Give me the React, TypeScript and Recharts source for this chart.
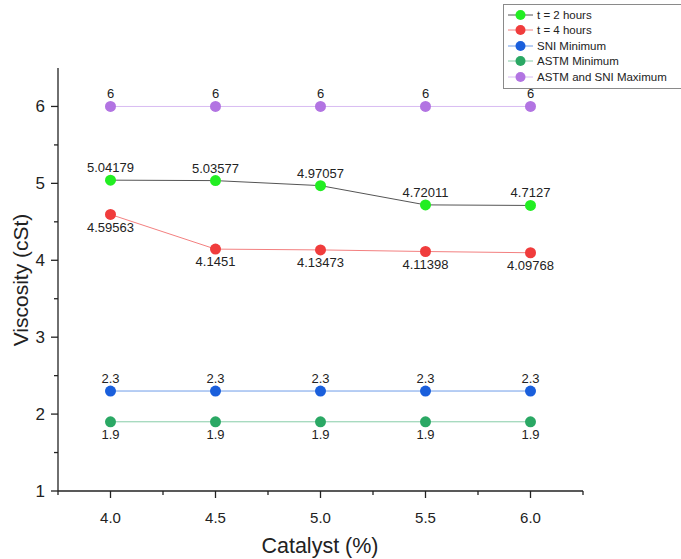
import React from "react";
import { LineChart, Line, XAxis, YAxis, LabelList } from "recharts";

const catalyst = [4.0, 4.5, 5.0, 5.5, 6.0];
const t2Hours = [5.04179, 5.03577, 4.97057, 4.72011, 4.7127];
const t4Hours = [4.59563, 4.1451, 4.13473, 4.11398, 4.09768];
const sniMinimum = [2.3, 2.3, 2.3, 2.3, 2.3];
const astmMinimum = [1.9, 1.9, 1.9, 1.9, 1.9];
const maximum = [6, 6, 6, 6, 6];

const xTicks = [3.75, 4.0, 4.25, 4.5, 4.75, 5.0, 5.25, 5.5, 5.75, 6.0, 6.25];
const xMajor = [4.0, 4.5, 5.0, 5.5, 6.0];
const yTicks = [1, 1.5, 2, 2.5, 3, 3.5, 4, 4.5, 5, 5.5, 6];
const yMajor = [1, 2, 3, 4, 5, 6];

const data = catalyst.map((c, i) => ({
  x: c,
  t2: t2Hours[i],
  t4: t4Hours[i],
  sni: sniMinimum[i],
  astm: astmMinimum[i],
  max: maximum[i],
}));

const FONT = "'Liberation Sans', Arial, sans-serif";

const series = [
  { key: "t2", name: "t = 2 hours", line: "#555555", dot: "#22ee22", labelPos: "top" },
  { key: "t4", name: "t = 4 hours", line: "#f38080", dot: "#f03c3c", labelPos: "bottom" },
  { key: "sni", name: "SNI Minimum", line: "#6e9ce8", dot: "#1a5fdc", labelPos: "top" },
  { key: "astm", name: "ASTM Minimum", line: "#86cca8", dot: "#2aa864", labelPos: "bottom" },
  { key: "max", name: "ASTM and SNI Maximum", line: "#d8bcf2", dot: "#b274e2", labelPos: "top" },
];

const AXIS_X = 58;
const AXIS_Y = 491;

const XTick = (props: any) => {
  const { x, payload } = props;
  const v = payload.value;
  const major = xMajor.some((m) => Math.abs(m - v) < 1e-6);
  return (
    <g>
      <line x1={x} x2={x} y1={AXIS_Y} y2={AXIS_Y + (major ? 7 : 4)} stroke="#222" strokeWidth={1.3} />
      {major && (
        <text x={x} y={AXIS_Y + 32} textAnchor="middle" fontSize={15} fontFamily={FONT} fill="#222">
          {v.toFixed(1)}
        </text>
      )}
    </g>
  );
};

const YTick = (props: any) => {
  const { y, payload } = props;
  const v = payload.value;
  const major = yMajor.some((m) => Math.abs(m - v) < 1e-6);
  return (
    <g>
      <line x1={AXIS_X - (major ? 7 : 4)} x2={AXIS_X} y1={y} y2={y} stroke="#222" strokeWidth={1.3} />
      {major && (
        <text x={AXIS_X - 13} y={y + 6} textAnchor="end" fontSize={17} fontFamily={FONT} fill="#222">
          {v}
        </text>
      )}
    </g>
  );
};

const LegendBox = () => (
  <div
    style={{
      position: "absolute",
      left: 503,
      top: 4,
      border: "1px solid #8a8a8a",
      background: "#fff",
      width: 200,
      padding: "2px 0 3px 0",
      fontFamily: FONT,
      fontSize: 11.5,
      color: "#222",
    }}
  >
    {series.map((s) => (
      <div key={s.key} style={{ display: "flex", alignItems: "center", height: 15.5 }}>
        <svg width={33} height={14} style={{ flex: "none" }}>
          <line x1={4} x2={29} y1={7} y2={7} stroke={s.line} strokeWidth={1} />
          <circle cx={16.5} cy={7} r={5} fill={s.dot} />
        </svg>
        <span style={{ whiteSpace: "nowrap" }}>{s.name}</span>
      </div>
    ))}
  </div>
);

export default function App() {
  return (
    <div style={{ position: "absolute", left: 0, top: 0, width: 681, height: 559, background: "#fff", overflow: "hidden" }}>
      <LineChart width={681} height={559} data={data} margin={{ top: 68, right: 98, bottom: 38, left: 0 }}>
        <XAxis
          dataKey="x"
          type="number"
          domain={[3.75, 6.25]}
          ticks={xTicks}
          interval={0}
          tick={<XTick />}
          tickLine={false}
          axisLine={{ stroke: "#222", strokeWidth: 1.3 }}
          height={30}
          label={{
            content: () => (
              <text x={320} y={553} textAnchor="middle" fontSize={21.5} fontFamily={FONT} fill="#222">
                Catalyst (%)
              </text>
            ),
          }}
        />
        <YAxis
          type="number"
          domain={[1, 6.5]}
          ticks={yTicks}
          interval={0}
          tick={<YTick />}
          tickLine={false}
          axisLine={{ stroke: "#222", strokeWidth: 1.3 }}
          width={58}
          label={{
            content: () => (
              <text
                x={28}
                y={280}
                transform="rotate(-90 28 280)"
                textAnchor="middle"
                fontSize={21}
                fontFamily={FONT}
                fill="#222"
              >
                Viscosity (cSt)
              </text>
            ),
          }}
        />
        {series.map((s) => (
          <Line
            key={s.key}
            dataKey={s.key}
            name={s.name}
            stroke={s.line}
            strokeWidth={1}
            dot={{ r: 5.5, fill: s.dot, stroke: s.dot, strokeWidth: 0 }}
            activeDot={false}
            isAnimationActive={false}
          >
            <LabelList
              dataKey={s.key}
              position={s.labelPos as any}
              offset={8}
              fontSize={13}
              fontFamily={FONT}
              fill="#222"
            />
          </Line>
        ))}
      </LineChart>
      <LegendBox />
    </div>
  );
}
